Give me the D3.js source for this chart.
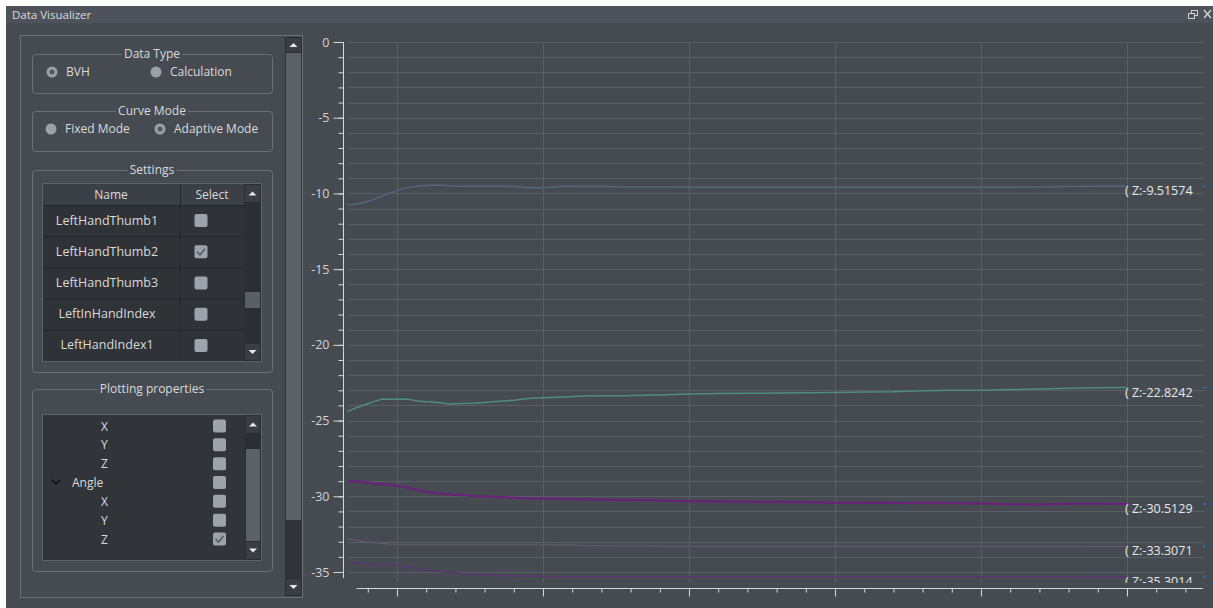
<!DOCTYPE html>
<html><head><meta charset="utf-8">
<script src="https://cdn.jsdelivr.net/npm/d3@7"></script>
<style>
html,body{margin:0;padding:0;background:#fff;}
svg{display:block;}
text{font-family:"Segoe UI","Open Sans","Noto Sans",sans-serif;}
</style></head>
<body>
<svg id="c" width="1213" height="608"></svg>
<script>
// ---------------- DATA ----------------
const frames = [33,36,39,42,45,48,51,54,57,60,64,68,72,76,80,85,90,95,100,107,114,121,128,135,142,150,160,170,180,190,200,210,220,230,240,250,260,270,280,290,300];
const seriesA = [-10.75,-10.7,-10.6,-10.4,-10.15,-9.95,-9.75,-9.6,-9.52,-9.47,-9.45,-9.5,-9.52,-9.52,-9.52,-9.52,-9.55,-9.62,-9.62,-9.52,-9.55,-9.55,-9.57,-9.57,-9.58,-9.6,-9.6,-9.6,-9.6,-9.6,-9.6,-9.6,-9.6,-9.6,-9.6,-9.6,-9.6,-9.58,-9.55,-9.52,-9.52];
const seriesB = [-24.4,-24.15,-23.95,-23.75,-23.58,-23.6,-23.58,-23.6,-23.7,-23.76,-23.8,-23.9,-23.87,-23.85,-23.8,-23.72,-23.65,-23.55,-23.5,-23.45,-23.38,-23.36,-23.36,-23.32,-23.3,-23.25,-23.22,-23.2,-23.18,-23.16,-23.14,-23.12,-23.1,-23.03,-23.0,-22.99,-22.95,-22.92,-22.86,-22.84,-22.82];
const seriesC = [-29.0,-29.02,-29.08,-29.15,-29.2,-29.25,-29.32,-29.45,-29.6,-29.72,-29.8,-29.87,-29.93,-29.98,-30.0,-30.05,-30.1,-30.14,-30.15,-30.16,-30.2,-30.23,-30.25,-30.27,-30.3,-30.33,-30.35,-30.36,-30.38,-30.4,-30.42,-30.43,-30.45,-30.46,-30.46,-30.47,-30.52,-30.55,-30.5,-30.5,-30.51];
const seriesD = [-32.8,-32.9,-33.0,-33.05,-33.12,-33.16,-33.18,-33.18,-33.18,-33.18,-33.18,-33.18,-33.18,-33.18,-33.18,-33.18,-33.18,-33.18,-33.18,-33.2,-33.25,-33.27,-33.28,-33.29,-33.3,-33.3,-33.3,-33.3,-33.3,-33.3,-33.3,-33.3,-33.3,-33.3,-33.3,-33.3,-33.3,-33.3,-33.3,-33.31,-33.31];
const seriesE = [-34.38,-34.42,-34.48,-34.52,-34.47,-34.5,-34.6,-34.7,-34.8,-34.88,-34.95,-35.02,-35.1,-35.15,-35.2,-35.24,-35.25,-35.26,-35.3,-35.32,-35.32,-35.32,-35.32,-35.32,-35.32,-35.32,-35.32,-35.32,-35.32,-35.32,-35.32,-35.32,-35.32,-35.32,-35.32,-35.32,-35.32,-35.31,-35.31,-35.3,-35.3];
const seriesLabels = ["( Z:-9.51574","( Z:-22.8242","( Z:-30.5129","( Z:-33.3071","( Z:-35.3014"];
const seriesColors = ["#59637a","#4f8c7b","#6c1f7e","#5f5669","#5a3570"];
const seriesWidths = [1.5,1.5,2,1.5,1.5];
const yTicks = [0,-5,-10,-15,-20,-25,-30,-35];
const settingsRows = ["LeftHandThumb1","LeftHandThumb2","LeftHandThumb3","LeftInHandIndex","LeftHandIndex1"];
const settingsChecked = [false,true,false,false,false];
const plotItems = ["X","Y","Z","Angle","X","Y","Z"];
const plotChecked = [false,false,false,false,false,false,true];

// ---------------- STYLE ----------------
const BG="#464b52", TITLE="#4e535b", BORDER="#6b7077", TXT="#dadada";

const svg = d3.select("#c");
svg.append("rect").attr("width",1213).attr("height",608).attr("fill","#ffffff");
svg.append("rect").attr("x",6).attr("y",6).attr("width",1207).attr("height",602).attr("fill",BG);
svg.append("rect").attr("x",6).attr("y",6).attr("width",1207).attr("height",17).attr("fill",TITLE);
svg.append("text").attr("x",12).attr("y",19).attr("fill",TXT).attr("font-size",11.5).text("Data Visualizer");
// window icons
const ic = svg.append("g").attr("stroke","#d0d0d0").attr("fill","none").attr("stroke-width",1);
ic.append("rect").attr("x",1191.5).attr("y",10.5).attr("width",6).attr("height",5);
ic.append("rect").attr("x",1188.5).attr("y",13.5).attr("width",6).attr("height",5).attr("fill",TITLE);
ic.append("path").attr("d","M1204,10 L1211,18 M1211,10 L1204,18").attr("stroke-width",1.5);

// ---------------- LEFT PANEL ----------------
const lp = svg.append("g");
lp.append("rect").attr("x",20.5).attr("y",35.5).attr("width",282).attr("height",562).attr("fill","none").attr("stroke",BORDER);

function scrollBtn(g,x,y,w,h,up){
  g.append("rect").attr("x",x).attr("y",y).attr("width",w).attr("height",h).attr("fill","#3a3e44").attr("stroke","#2a2d31");
  const cx=x+w/2, cy=y+h/2;
  const p = up ? `M${cx-4},${cy+2} L${cx+4},${cy+2} L${cx},${cy-2} Z` : `M${cx-4},${cy-2} L${cx+4},${cy-2} L${cx},${cy+2} Z`;
  g.append("path").attr("d",p).attr("fill","#e8e8e8");
}
// main scrollbar
lp.append("rect").attr("x",285).attr("y",37).attr("width",17).attr("height",559).attr("fill","#30343a");
scrollBtn(lp,285.5,37.5,16,15,true);
lp.append("rect").attr("x",286).attr("y",53).attr("width",15).attr("height",467).attr("fill","#5c6168");
scrollBtn(lp,285.5,578.5,16,17,false);

function groupBox(x,y,w,h,title){
  const g = lp.append("g");
  g.append("rect").attr("x",x+0.5).attr("y",y+0.5).attr("width",w).attr("height",h).attr("rx",3).attr("fill","none").attr("stroke",BORDER);
  const t = g.append("text").attr("x",x+w/2).attr("y",y+4).attr("text-anchor","middle").attr("fill",TXT).attr("font-size",12).text(title);
  const bb = t.node().getBBox();
  g.insert("rect","text").attr("x",bb.x-2).attr("y",y-2).attr("width",bb.width+4).attr("height",5).attr("fill",BG);
  return g;
}
function radio(g,cx,cy,label,sel){
  g.append("circle").attr("cx",cx).attr("cy",cy).attr("r",5.5).attr("fill","#9ca1a9");
  if(sel) g.append("circle").attr("cx",cx).attr("cy",cy).attr("r",2.5).attr("fill","#555a61");
  g.append("text").attr("x",cx+14).attr("y",cy+4).attr("fill",TXT).attr("font-size",12).text(label);
}
const g1 = groupBox(32,54,240,39,"Data Type");
radio(g1,52,72,"BVH",true);
radio(g1,156,72,"Calculation",false);
const g2 = groupBox(32,111,240,40,"Curve Mode");
radio(g2,51,129,"Fixed Mode",false);
radio(g2,160,129,"Adaptive Mode",true);

function checkbox(g,cx,cy,checked){
  g.append("rect").attr("x",cx-6.5).attr("y",cy-6.5).attr("width",13).attr("height",13).attr("rx",2).attr("fill","#9da2ab");
  if(checked) g.append("path").attr("d",`M${cx-4},${cy} L${cx-1},${cy+3} L${cx+4},${cy-3}`).attr("stroke","#555a62").attr("stroke-width",1.6).attr("fill","none");
}

// Settings
const g3 = groupBox(32,170,240,202,"Settings");
g3.append("rect").attr("x",42.5).attr("y",183.5).attr("width",219).attr("height",178).attr("fill","#2f3338").attr("stroke","#5e636a");
g3.append("rect").attr("x",43).attr("y",184).attr("width",201).attr("height",21).attr("fill","#3b3f46");
g3.append("line").attr("x1",180.5).attr("x2",180.5).attr("y1",184).attr("y2",361).attr("stroke","#24272b");
g3.append("text").attr("x",111).attr("y",199).attr("text-anchor","middle").attr("fill",TXT).attr("font-size",12).text("Name");
g3.append("text").attr("x",212).attr("y",199).attr("text-anchor","middle").attr("fill",TXT).attr("font-size",12).text("Select");
const rowY = d3.scaleBand().domain(d3.range(settingsRows.length)).range([205,361]);
settingsRows.forEach((r,i)=>{
  const y0 = rowY(i);
  g3.append("line").attr("x1",43).attr("x2",244).attr("y1",y0+0.5).attr("y2",y0+0.5).attr("stroke","#24272b");
  g3.append("text").attr("x",107).attr("y",y0+rowY.bandwidth()/2+4).attr("text-anchor","middle").attr("fill",TXT).attr("font-size",12.5).text(r);
  checkbox(g3,201,y0+rowY.bandwidth()/2,settingsChecked[i]);
});
g3.append("rect").attr("x",244).attr("y",184).attr("width",17).attr("height",177).attr("fill","#2b2e33");
scrollBtn(g3,244.5,184.5,16,18,true);
g3.append("rect").attr("x",245).attr("y",292).attr("width",15).attr("height",16).attr("fill","#5a5f66");
scrollBtn(g3,244.5,343.5,16,17,false);

// Plotting properties
const g4 = groupBox(32,389,240,182,"Plotting properties");
g4.append("rect").attr("x",42.5).attr("y",414.5).attr("width",219).attr("height",146).attr("fill","#31353a").attr("stroke","#5e636a");
const itemY = d3.scalePoint().domain(d3.range(plotItems.length)).range([426,539]);
plotItems.forEach((t,i)=>{
  const cy = itemY(i);
  const isAngle = t==="Angle";
  if(isAngle) g4.append("path").attr("d",`M${52},${cy-2.5} L${56},${cy+1.5} L${60},${cy-2.5}`).attr("stroke","#15171a").attr("stroke-width",1.8).attr("fill","none");
  g4.append("text").attr("x",isAngle?72:101).attr("y",cy+4.5).attr("fill",TXT).attr("font-size",12).text(t);
  checkbox(g4,219.5,cy,plotChecked[i]);
});
g4.append("rect").attr("x",245).attr("y",415).attr("width",16).attr("height",145).attr("fill","#2b2e33");
scrollBtn(g4,245.5,415.5,15,18,true);
g4.append("rect").attr("x",246).attr("y",449).attr("width",14).attr("height",92).attr("fill","#5c6168");
scrollBtn(g4,245.5,541.5,15,18,false);

// ---------------- CHART ----------------
const x = d3.scaleLinear().domain([50,300]).range([397,1127]);
const y = d3.scaleLinear().domain([0,-35]).range([42,572]);
const ch = svg.append("g");

// horizontal grid
ch.append("g").selectAll("line").data(d3.range(0,-36,-1)).join("line")
  .attr("x1",348).attr("x2",1204).attr("y1",d=>Math.round(y(d))+0.5).attr("y2",d=>Math.round(y(d))+0.5)
  .attr("stroke","#5a5f67").attr("stroke-width",1);
// vertical grid
ch.append("g").selectAll("line").data(d3.range(50,301,50)).join("line")
  .attr("x1",d=>Math.round(x(d))+0.5).attr("x2",d=>Math.round(x(d))+0.5).attr("y1",42).attr("y2",582)
  .attr("stroke","#5a5f67").attr("stroke-width",1);

// y axis
const yMinor = ch.append("g").attr("transform","translate(343.5,0)")
  .call(d3.axisLeft(y).tickValues(d3.range(0,-36,-1)).tickSize(5).tickSizeOuter(0).tickFormat(""));
const yMajor = ch.append("g").attr("transform","translate(343.5,0)")
  .call(d3.axisLeft(y).tickValues(yTicks).tickSize(10).tickSizeOuter(0).tickPadding(4).tickFormat(d=>String(d)));
[yMinor,yMajor].forEach(a=>{a.select(".domain").remove();a.selectAll("line").attr("stroke","#d8d8d8");});
yMajor.selectAll("text").attr("fill","#cfd3d8").attr("font-size",12.5).style("font-family",'"Segoe UI","Open Sans",sans-serif');
ch.append("line").attr("x1",343.5).attr("x2",343.5).attr("y1",y(0)).attr("y2",y(-35.4)).attr("stroke","#d8d8d8");

// x axis
const xMinor = ch.append("g").attr("transform","translate(0,588.5)")
  .call(d3.axisBottom(x).tickValues(d3.range(40,321,10)).tickSize(4).tickSizeOuter(0).tickFormat(""));
const xMajor = ch.append("g").attr("transform","translate(0,588.5)")
  .call(d3.axisBottom(x).tickValues(d3.range(50,301,50)).tickSize(8).tickSizeOuter(0).tickFormat(""));
[xMinor,xMajor].forEach(a=>{a.select(".domain").remove();a.selectAll("line").attr("stroke","#d8d8d8");});
ch.append("line").attr("x1",x(36.2)).attr("x2",x(326)).attr("y1",588.5).attr("y2",588.5).attr("stroke","#d8d8d8");

// clip
svg.append("defs").append("clipPath").attr("id","plotclip").append("rect").attr("x",340).attr("y",30).attr("width",870).attr("height",553);
const plot = ch.append("g").attr("clip-path","url(#plotclip)");
const allSeries = [seriesA,seriesB,seriesC,seriesD,seriesE];
const line = d3.line().x(d=>x(d[0])).y(d=>y(d[1]));
allSeries.forEach((s,i)=>{
  const pts = frames.map((f,j)=>[f,s[j]]);
  plot.append("path").attr("d",line(pts)).attr("fill","none").attr("stroke",seriesColors[i]).attr("stroke-width",seriesWidths[i]).attr("stroke-linejoin","round");
  const last = s[s.length-1];
  plot.append("text").attr("x",x(frames[frames.length-1])-2).attr("y",y(last)+9).attr("fill","#e8e8e8").attr("font-size",12.5).text(seriesLabels[i]);
  plot.append("rect").attr("x",1204).attr("y",y(last)-1).attr("width",1).attr("height",2).attr("fill","#3d8fd6");
});
</script>
</body></html>
